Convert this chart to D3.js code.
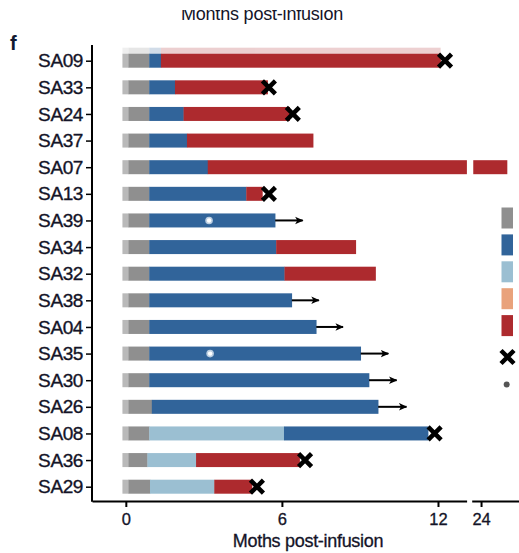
<!DOCTYPE html>
<html><head><meta charset="utf-8">
<script src="https://cdn.jsdelivr.net/npm/d3@7"></script>
<style>
html,body{margin:0;padding:0;background:#fff;overflow:hidden}
svg{display:block;font-family:"Liberation Sans",Arial,sans-serif}
</style></head>
<body>
<svg id="c" width="519" height="553"></svg>
<script>
// ---- data ----
const samples = ["SA09","SA33","SA24","SA37","SA07","SA13","SA39","SA34","SA32","SA38","SA04","SA35","SA30","SA26","SA08","SA36","SA29"];
const barStart  = [-0.13,-0.13,-0.13,-0.13,-0.13,-0.13,-0.13,-0.13,-0.13,-0.13,-0.13,-0.13,-0.13,-0.13,-0.13,-0.13,-0.13];
const paleEnd   = [0.1,0.1,0.1,0.1,0.1,0.1,0.1,0.1,0.1,0.1,0.1,0.1,0.1,0.1,0.1,0.1,0.1];
const grayEnd   = [0.9,0.9,0.9,0.9,0.9,0.9,0.9,0.9,0.9,0.9,0.9,0.9,0.9,1.0,0.9,0.83,0.93];
const ltBlueEnd = [0.9,0.9,0.9,0.9,0.9,0.9,0.9,0.9,0.9,0.9,0.9,0.9,0.9,1.0,6.08,2.7,3.4];
const blueEnd   = [1.35,1.89,2.22,2.35,3.15,4.63,5.74,5.78,6.1,6.38,7.32,9.03,9.35,9.7,11.62,2.7,3.4];
const redEnd    = [12.1,5.45,6.3,7.2,25.0,5.25,5.74,8.84,9.6,6.38,7.32,9.03,9.35,9.7,11.62,6.68,4.85];
const deathAt   = [12.27,5.5,6.42,null,null,5.5,null,null,null,null,null,null,null,null,11.87,6.89,5.04];
const ongoingTo = [null,null,null,null,null,null,6.8,null,null,7.42,8.35,10.09,10.41,10.79,null,null,null];
const starAt    = [null,null,null,null,null,null,3.2,null,null,null,null,3.24,null,null,null,null,null];
const ticksLeft = [0,6,12];
const ticksRight = [24];
const legendColors = ["#8f8f8f","#31649a","#9bbfd2","#e9a27b","#ad2a2e"];

const C = {pale:"#b9b9b9", gray:"#8f8f8f", lt:"#9bbfd2", blue:"#31649a", red:"#ad2a2e"};
const TXT = "#141428";

const svg = d3.select("#c");
const brk1 = 13.1, brk2 = 23.7;
const x1 = d3.scaleLinear().domain([-1.3, brk1]).range([92, 466.6]);
const x2 = d3.scaleLinear().domain([23.64, 25.5]).range([471.7, 520]);
const y = d3.scalePoint().domain(samples).range([60.7, 486.7]);
const bh = 14;

function pieces(a, b) {
  const out = [];
  if (b <= a) return out;
  if (a < brk1) out.push([x1(a), x1(Math.min(b, brk1))]);
  if (b > brk2) out.push([x2(Math.max(a, brk2)), x2(b)]);
  return out;
}
function X(v){ return v < brk1 ? x1(v) : x2(v); }

const rows = samples.map((s,i)=>({s,i,segs:[
  [barStart[i], paleEnd[i], C.pale],
  [paleEnd[i], grayEnd[i], C.gray],
  [grayEnd[i], ltBlueEnd[i], C.lt],
  [ltBlueEnd[i], blueEnd[i], C.blue],
  [blueEnd[i], redEnd[i], C.red]
]}));

// faded ghost strip above the first bar
const g0 = svg.append("g").attr("opacity",0.22);
rows[0].segs.forEach(([a,b,col])=>{
  pieces(a,b).forEach(([p,q])=>{
    g0.append("rect").attr("x",p).attr("width",q-p)
      .attr("y",y(rows[0].s)-bh/2-6).attr("height",6).attr("fill",col);
  });
});

const gb = svg.append("g");
rows.forEach(r=>{
  r.segs.forEach(([a,b,col])=>{
    pieces(a,b).forEach(([p,q])=>{
      gb.append("rect").attr("x",p).attr("width",q-p+0.3)
        .attr("y",y(r.s)-bh/2).attr("height",bh).attr("fill",col);
    });
  });
});

// arrows
svg.append("defs").append("marker").attr("id","ah")
  .attr("viewBox","0 0 10 10").attr("refX",9).attr("refY",5)
  .attr("markerWidth",4.2).attr("markerHeight",4.2).attr("markerUnits","strokeWidth")
  .attr("orient","auto")
  .append("path").attr("d","M0,0.5 L10,5 L0,9.5 L2.5,5 Z").attr("fill","#000");
samples.forEach((s,i)=>{
  if (ongoingTo[i]==null) return;
  svg.append("line").attr("x1",X(blueEnd[i])).attr("x2",X(ongoingTo[i]))
    .attr("y1",y(s)).attr("y2",y(s)).attr("stroke","#000").attr("stroke-width",2)
    .attr("marker-end","url(#ah)");
});

// death markers
function cross(g, cx, cy, r){
  g.append("path").attr("d",`M${cx-r},${cy-r}L${cx+r},${cy+r}M${cx-r},${cy+r}L${cx+r},${cy-r}`)
    .attr("stroke","#000").attr("stroke-width",4.5).attr("stroke-linecap","butt").attr("fill","none");
}
samples.forEach((s,i)=>{
  if (deathAt[i]==null) return;
  cross(svg, X(deathAt[i]), y(s), 6.5);
});

// stars (white dots)
samples.forEach((s,i)=>{
  if (starAt[i]==null) return;
  svg.append("circle").attr("cx",X(starAt[i])).attr("cy",y(s)).attr("r",3.8).attr("fill","#dfe8f3").attr("opacity",0.8);
  svg.append("circle").attr("cx",X(starAt[i])).attr("cy",y(s)).attr("r",2.2).attr("fill","#fff");
});

// y axis
const ya = svg.append("g").attr("transform","translate(92,0)")
  .call(d3.axisLeft(y).tickSize(6).tickPadding(3).tickSizeOuter(0));
ya.select(".domain").remove();
ya.selectAll(".tick line").attr("stroke","#000").attr("stroke-width",1.5);
ya.selectAll(".tick text").attr("font-size",19).attr("fill",TXT).attr("letter-spacing","-0.4px")
  .attr("stroke",TXT).attr("stroke-width",0.35)
  .attr("font-family","\"Liberation Sans\",Arial,sans-serif");
svg.append("line").attr("x1",92).attr("x2",92).attr("y1",45).attr("y2",501.7)
  .attr("stroke","#000").attr("stroke-width",2);

// x axes (broken)
const fmt = d3.format("d");
const xa1 = svg.append("g").attr("transform","translate(0,501)")
  .call(d3.axisBottom(x1).tickValues(ticksLeft).tickFormat(fmt).tickSize(6).tickPadding(6).tickSizeOuter(0));
const xa2 = svg.append("g").attr("transform","translate(0,501)")
  .call(d3.axisBottom(x2).tickValues(ticksRight).tickFormat(fmt).tickSize(6).tickPadding(6).tickSizeOuter(0));
[xa1,xa2].forEach(a=>{
  a.select(".domain").attr("stroke","#000").attr("stroke-width",2);
  a.selectAll(".tick line").attr("stroke","#000").attr("stroke-width",2);
  a.selectAll(".tick text").attr("font-size",16.5).attr("fill",TXT)
    .attr("stroke",TXT).attr("stroke-width",0.3)
    .attr("font-family","\"Liberation Sans\",Arial,sans-serif");
});

svg.append("text").attr("x",308).attr("y",547).attr("text-anchor","middle")
  .attr("font-size",18).attr("letter-spacing","-0.3px").attr("fill",TXT)
  .attr("stroke",TXT).attr("stroke-width",0.3).text("Moths post-infusion");

// clipped top title
svg.append("text").attr("x",262).attr("y",20).attr("text-anchor","middle")
  .attr("font-size",18).attr("letter-spacing","-0.2px").attr("fill",TXT).text("Months post-infusion");
svg.append("rect").attr("x",0).attr("y",0).attr("width",519).attr("height",10).attr("fill","#fff");

// panel letter
svg.append("text").attr("x",10).attr("y",50).attr("font-size",20).attr("font-weight","bold")
  .attr("fill","#101830").text("f");

// legend (labels fall outside the frame)
const lg = svg.append("g");
legendColors.forEach((col,k)=>{
  lg.append("rect").attr("x",501.5).attr("y",207.5+k*26.9).attr("width",11.5).attr("height",21).attr("fill",col);
});
cross(lg, 507.5, 357, 6.5);
lg.append("circle").attr("cx",506.7).attr("cy",384.5).attr("r",3).attr("fill","#555");
</script>
</body></html>
